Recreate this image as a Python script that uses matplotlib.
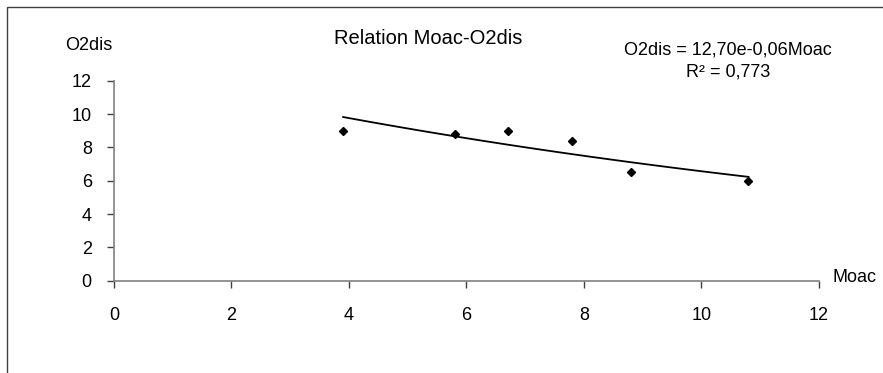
import numpy as np
import matplotlib.pyplot as plt
from matplotlib.patches import Rectangle

plt.rcParams['font.family'] = ['Liberation Sans', 'DejaVu Sans']

moac = [3.9, 5.8, 6.7, 7.8, 8.8, 10.8]
o2dis = [9.0, 8.8, 9.0, 8.4, 6.5, 6.0]
ticks = [0, 2, 4, 6, 8, 10, 12]

# exponential trend line, fitted on log values
b, ln_a = np.polyfit(moac, np.log(o2dis), 1)
a = np.exp(ln_a)
xs = np.linspace(min(moac), max(moac), 100)

fig = plt.figure(figsize=(8.83, 3.73), dpi=100)
ax = fig.add_axes([114 / 883, 1 - 280.7 / 373, 705 / 883, 200 / 373])

ax.plot(xs, a * np.exp(b * xs), color='black', lw=1.3)
ax.plot(moac, o2dis, 'D', color='black', markersize=4.5, ls='none')

ax.set_xlim(0, 12)
ax.set_ylim(0, 12)
ax.set_xticks(ticks)
ax.set_yticks(ticks)
for s in ['top', 'right']:
    ax.spines[s].set_visible(False)
for s in ['left', 'bottom']:
    ax.spines[s].set_color('#808080')
    ax.spines[s].set_linewidth(1.2)
ax.tick_params(direction='out', length=5, width=1, color='#404040',
               labelsize=13, pad=4)
ax.tick_params(axis='x', pad=14)
ax.tick_params(axis='y', pad=11)

fig.text(428 / 883, 1 - 38 / 373, 'Relation Moac-O2dis', ha='center', va='center', fontsize=14.5)
fig.text(89 / 883, 1 - 46 / 373, 'O2dis', ha='center', va='center', fontsize=13)
fig.text(832 / 883, 1 - 277 / 373, 'Moac', ha='left', va='center', fontsize=13)
fig.text(728 / 883, 1 - 50 / 373, 'O2dis = 12,70e-0,06Moac', ha='center', va='center', fontsize=13)
fig.text(728 / 883, 1 - 72 / 373, 'R² = 0,773', ha='center', va='center', fontsize=13)

fig.patches.append(Rectangle((7 / 883, -0.1), 1.2, 1 - 7 / 373 + 0.1,
                             transform=fig.transFigure, fill=False,
                             edgecolor='#404040', lw=1))

fig.savefig('out.png', dpi=100)
